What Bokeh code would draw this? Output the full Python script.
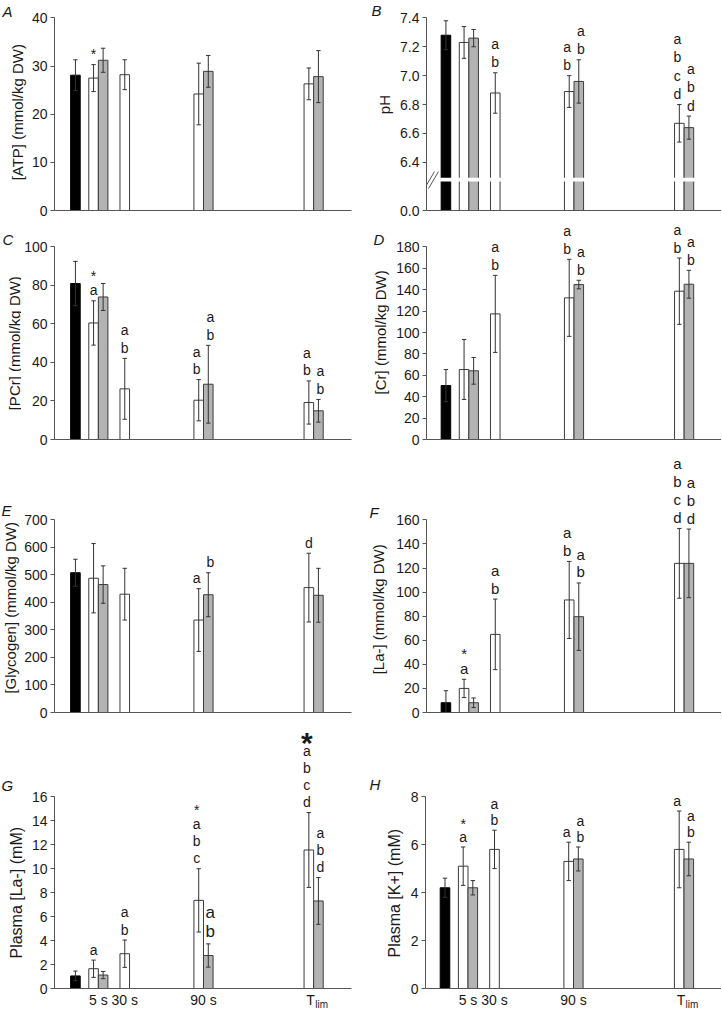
import math
from bokeh.plotting import figure
from bokeh.layouts import column, row
from bokeh.models import FixedTicker, Range1d, PrintfTickFormatter, LinearAxis
from bokeh.core.properties import value
from bokeh.embed import file_html
from bokeh.resources import INLINE

# ---------------- data ----------------
white_groups = ["5 s", "30 s", "90 s", "Tlim"]
grey_groups = ["5 s", "90 s", "Tlim"]
x_tick_groups = ["5 s", "30 s", "90 s", "Tlim"]
x_tick_labels = ["5 s", "30 s", "90 s", "T"]
x_tick_sub = "lim"

# A  [ATP]
atp_black = [28.1]; atp_black_sd = [3.2]
atp_white = [27.5, 28.2, 24.2, 26.3]; atp_white_sd = [2.8, 3.1, 6.4, 3.3]
atp_grey = [31.2, 28.9, 27.8]; atp_grey_sd = [2.5, 3.3, 5.4]
atp_white_sig = ["*", "", "", ""]; atp_grey_sig = ["", "", ""]
atp_ticks = [0, 10, 20, 30, 40]

# B  pH (axis broken between 0.0 and 6.4)
ph_black = [7.28]; ph_black_sd = [0.10]
ph_white = [7.23, 6.88, 6.89, 6.67]; ph_white_sd = [0.11, 0.14, 0.11, 0.13]
ph_grey = [7.26, 6.96, 6.64]; ph_grey_sd = [0.06, 0.15, 0.08]
ph_white_sig = ["", "a\nb", "a\nb", "a\nb\nc\nd"]; ph_grey_sig = ["", "a\nb", "a\nb\nd"]
ph_tick_vals = [6.4, 6.6, 6.8, 7.0, 7.2, 7.4]
ph_zero_label = "0.0"

# C  [PCr]
pcr_black = [81.0]; pcr_black_sd = [11.5]
pcr_white = [60.5, 26.3, 20.4, 19.2]; pcr_white_sd = [11.5, 15.8, 10.7, 11.2]
pcr_grey = [74.0, 28.7, 14.9]; pcr_grey_sd = [7.0, 20.2, 5.9]
pcr_white_sig = ["*\na", "a\nb", "a\nb", "a\nb"]; pcr_grey_sig = ["", "a\nb", "a\nb"]
pcr_ticks = [0, 20, 40, 60, 80, 100]

# D  [Cr]
cr_black = [50.4]; cr_black_sd = [15.0]
cr_white = [65.4, 117.4, 132.4, 138.6]; cr_white_sd = [28.0, 36.0, 36.0, 31.0]
cr_grey = [64.2, 144.8, 145.1]; cr_grey_sd = [12.5, 4.0, 13.0]
cr_white_sig = ["", "a\nb", "a\nb", "a\nb"]; cr_grey_sig = ["", "a\nb", "a\nb"]
cr_ticks = [0, 20, 40, 60, 80, 100, 120, 140, 160, 180]

# E  [Glycogen]
gly_black = [508.0]; gly_black_sd = [49.0]
gly_white = [488.0, 430.0, 336.0, 454.0]; gly_white_sd = [126.0, 94.0, 114.0, 125.0]
gly_grey = [465.0, 428.0, 426.0]; gly_grey_sd = [68.0, 80.0, 98.0]
gly_white_sig = ["", "", "a", "d"]; gly_grey_sig = ["", "b", ""]
gly_ticks = [0, 100, 200, 300, 400, 500, 600, 700]

# F  [La-] muscle
la_black = [8.1]; la_black_sd = [10.0]
la_white = [20.0, 64.9, 93.5, 123.9]; la_white_sd = [7.6, 29.3, 32.0, 29.0]
la_grey = [8.1, 79.6, 123.9]; la_grey_sd = [4.0, 28.0, 28.5]
la_white_sig = ["*\na", "a\nb", "a\nb", "a\nb\nc\nd"]; la_grey_sig = ["", "a\nb", "a\nb\nd"]
la_ticks = [0, 20, 40, 60, 80, 100, 120, 140, 160]

# G  Plasma [La-]
pla_black = [1.05]; pla_black_sd = [0.40]
pla_white = [1.65, 2.90, 7.35, 11.55]; pla_white_sd = [0.72, 1.14, 2.64, 3.12]
pla_grey = [1.12, 2.75, 7.30]; pla_grey_sd = [0.30, 0.97, 1.95]
pla_white_sig = ["a", "a\nb", "*\na\nb\nc", "a\nb\nc\nd"]; pla_grey_sig = ["", "a\nb", "a\nb\nd"]
pla_white_bigstar = [False, False, False, True]
pla_ticks = [0, 2, 4, 6, 8, 10, 12, 14, 16]

# H  Plasma [K+]
pk_black = [4.2]; pk_black_sd = [0.4]
pk_white = [5.1, 5.8, 5.3, 5.8]; pk_white_sd = [0.8, 0.8, 0.8, 1.6]
pk_grey = [4.2, 5.4, 5.4]; pk_grey_sd = [0.3, 0.5, 0.7]
pk_white_sig = ["*\na", "a\nb", "a", "a"]; pk_grey_sig = ["", "a\nb", "a\nb"]
pk_ticks = [0, 2, 4, 6, 8]

# ---------------- layout / style ----------------
FONT = "Liberation Sans"
INK = "#1a1a1a"
AXC = "#555555"
EDGE = "#3c3c3c"
GREY = "#b3b3b3"
AXIS_PX = 192.6           # pixels between zero and top tick
PH_PPU = 144.4            # pixels per pH unit
GROUP_X = {"Baseline": 21.0, "5 s": 44.0, "30 s": 70.5, "90 s": 149.5, "Tlim": 260.0}
BAR_W = 9.6
CAP = 2.2
SPREAD = 2.0              # sideways nudge of letters when both bars of a pair are marked
ROWS = [(220, 10), (232, 13), (273, 13), (287, 23)]   # (figure height, bottom border)
AXIS_X = [53, 64]          # y-axis position inside each column (px)

PH_BASE = 7.4 - AXIS_PX / PH_PPU

PANELS = {
    "A": dict(ylabel="[ATP] (mmol/kg DW)", black=atp_black, black_sd=atp_black_sd,
              white=atp_white, white_sd=atp_white_sd, grey=atp_grey, grey_sd=atp_grey_sd,
              wsig=atp_white_sig, gsig=atp_grey_sig, ticks=atp_ticks, ann=14, lh=17.5,
              lw=28, ylab=(17, 117), ylab_size=15, letter=(2, 11.5)),
    "B": dict(ylabel="pH", black=ph_black, black_sd=ph_black_sd,
              white=ph_white, white_sd=ph_white_sd, grey=ph_grey, grey_sd=ph_grey_sd,
              wsig=ph_white_sig, gsig=ph_grey_sig, ticks=[PH_BASE] + ph_tick_vals, ann=14, lh=18.5,
              lw=36, ylab=(22.5, 109), ylab_size=15, letter=(10, 10)),
    "C": dict(ylabel="[PCr] (mmol/kg DW)", black=pcr_black, black_sd=pcr_black_sd,
              white=pcr_white, white_sd=pcr_white_sd, grey=pcr_grey, grey_sd=pcr_grey_sd,
              wsig=pcr_white_sig, gsig=pcr_grey_sig, ticks=pcr_ticks, ann=14, lh=17.5,
              lw=21, ylab=(13.5, 130), ylab_size=15, letter=(2, 20)),
    "D": dict(ylabel="[Cr] (mmol/kg DW)", black=cr_black, black_sd=cr_black_sd,
              white=cr_white, white_sd=cr_white_sd, grey=cr_grey, grey_sd=cr_grey_sd,
              wsig=cr_white_sig, gsig=cr_grey_sig, ticks=cr_ticks, ann=14, lh=17.5,
              lw=32, ylab=(19, 118.5), ylab_size=15, letter=(12, 20)),
    "E": dict(ylabel="[Glycogen] (mmol/kg DW)", black=gly_black, black_sd=gly_black_sd,
              white=gly_white, white_sd=gly_white_sd, grey=gly_grey, grey_sd=gly_grey_sd,
              wsig=gly_white_sig, gsig=gly_grey_sig, ticks=gly_ticks, ann=14, lh=17.5,
              lw=21, ylab=(9.5, 163), ylab_size=15, letter=(1, 61)),
    "F": dict(ylabel="[La-] (mmol/kg DW)", black=la_black, black_sd=la_black_sd,
              white=la_white, white_sd=la_white_sd, grey=la_grey, grey_sd=la_grey_sd,
              wsig=la_white_sig, gsig=la_grey_sig, ticks=la_ticks, ann=15, lh=17.3,
              lw=32, ylab=(17, 164.7), ylab_size=15, letter=(8, 63)),
    "G": dict(ylabel="Plasma [La-] (mM)", black=pla_black, black_sd=pla_black_sd,
              white=pla_white, white_sd=pla_white_sd, grey=pla_grey, grey_sd=pla_grey_sd,
              wsig=pla_white_sig, gsig=pla_grey_sig, ticks=pla_ticks, ann=14, lh=17.2,
              gann=[14, 17, 14], bigstar=pla_white_bigstar,
              lw=28, ylab=(16, 182.5), ylab_size=16, letter=(1, 65)),
    "H": dict(ylabel="Plasma [K+] (mM)", black=pk_black, black_sd=pk_black_sd,
              white=pk_white, white_sd=pk_white_sd, grey=pk_grey, grey_sd=pk_grey_sd,
              wsig=pk_white_sig, gsig=pk_grey_sig, ticks=pk_ticks, ann=14, lh=16.0,
              lw=44, ylab=(32.5, 183), ylab_size=16, letter=(8, 64)),
}


def draw_sig(p, xs, tops, texts, sizes, ppu, lh, shifts):
    X, Y, T, S = [], [], [], []
    for x, t, s, sz, dx in zip(xs, tops, texts, sizes, shifts):
        if not s:
            continue
        step = lh + (sz - 14) * 0.6
        off = 2.5
        for k, ln in enumerate(reversed(s.split("\n"))):
            if k > 0:
                off += step * (0.8 if ln == "*" else 1.0)
            X.append(x + dx); Y.append(t + off / ppu); T.append(ln); S.append(f"{sz}px")
    if X:
        p.text(x=X, y=Y, text=T, text_align="center", text_baseline="bottom",
               text_font=value(FONT), text_font_size=S, text_color=INK)


def label_panel(key, rix):
    d = PANELS[key]
    row_h = ROWS[rix][0]
    lw = d["lw"]
    f = figure(width=lw, height=row_h, x_range=Range1d(0, lw), y_range=Range1d(0, row_h),
               output_backend="svg", toolbar_location=None, min_border=0,
               x_axis_type=None, y_axis_type=None)
    f.outline_line_color = None
    f.grid.visible = False
    f.border_fill_color = "white"
    lx, ly = d["ylab"]
    f.text(x=[lx], y=[row_h - ly], text=[d["ylabel"]], angle=math.pi / 2,
           text_align="center", text_baseline="middle", text_font=value(FONT),
           text_font_size=f"{d['ylab_size']}px", text_color=INK)
    ex, ey = d["letter"]
    f.text(x=[ex], y=[row_h - ey], text=[key], text_align="left", text_baseline="middle",
           text_font=value(FONT), text_font_size="15px", text_font_style="italic", text_color=INK)
    return f


def make_panel(key, col, rix, bottom_labels):
    d = PANELS[key]
    row_h, bb = ROWS[rix]
    frame_h = row_h - bb
    lw = d["lw"]
    if col == 0:
        x0, fw, br = 0.0, 298.0, 10
    else:
        x0, fw, br = 1.5, 296.0, 0
    bl = AXIS_X[col] - lw
    width = bl + int(fw) + br
    ticks = d["ticks"]
    y0 = ticks[0]
    ppu = AXIS_PX / (ticks[-1] - ticks[0])
    y1 = y0 + frame_h / ppu

    p = figure(width=width, height=row_h, x_range=Range1d(x0, x0 + fw), y_range=Range1d(y0, y1),
               output_backend="svg", toolbar_location=None,
               min_border_left=bl, min_border_right=br, min_border_top=0, min_border_bottom=bb)
    p.outline_line_color = None
    p.grid.visible = False
    p.background_fill_color = "white"
    p.border_fill_color = "white"

    # y axis
    ya = p.yaxis[0]
    ya.ticker = FixedTicker(ticks=ticks)
    ya.bounds = (ticks[0], ticks[-1])
    ya.axis_line_color = AXC
    ya.major_tick_line_color = AXC
    ya.minor_tick_line_color = None
    ya.major_tick_out = 4
    ya.major_tick_in = 0
    ya.major_label_standoff = 3
    ya.major_label_text_font = FONT
    ya.major_label_text_font_size = "14px"
    ya.major_label_text_color = INK
    if key == "B":
        ya.formatter = PrintfTickFormatter(format="%.1f")
        ya.major_label_overrides = {PH_BASE: ph_zero_label}

    # x axis
    xa = p.xaxis[0]
    xa.axis_line_color = AXC
    xa.major_tick_line_color = None
    xa.minor_tick_line_color = None
    xa.major_tick_out = 0
    xa.major_tick_in = 0
    if bottom_labels:
        pos = [GROUP_X[g] - (3.0 if g == "Tlim" else 0.0) for g in x_tick_groups]
        xa.ticker = FixedTicker(ticks=pos)
        xa.major_label_overrides = {v: t for v, t in zip(pos, x_tick_labels)}
        xa.major_label_standoff = 3
        xa.major_label_text_font = FONT
        xa.major_label_text_font_size = "14px"
        xa.major_label_text_color = INK
        sub_x = GROUP_X["Tlim"] + 8.0
        sub = LinearAxis(ticker=FixedTicker(ticks=[sub_x]), major_label_overrides={sub_x: x_tick_sub},
                         axis_line_color=None, major_tick_line_color=None, minor_tick_line_color=None,
                         major_tick_out=0, major_tick_in=0, major_label_standoff=-12,
                         major_label_text_font=FONT, major_label_text_font_size="10px",
                         major_label_text_color=INK)
        p.add_layout(sub, "below")
    else:
        xa.ticker = FixedTicker(ticks=[])
        xa.major_label_standoff = 0

    # bars
    wx = [GROUP_X[g] - (BAR_W / 2 if g in grey_groups else 0.0) for g in white_groups]
    gx = [GROUP_X[g] + BAR_W / 2 for g in grey_groups]
    bx = [GROUP_X["Baseline"]]
    p.vbar(x=bx, width=BAR_W, top=d["black"], bottom=y0, fill_color="black", line_color="black", line_width=1)
    p.vbar(x=wx, width=BAR_W, top=d["white"], bottom=y0, fill_color="white", line_color=EDGE, line_width=1)
    p.vbar(x=gx, width=BAR_W, top=d["grey"], bottom=y0, fill_color=GREY, line_color=EDGE, line_width=1)

    # error bars
    for xs, m, s in ((bx, d["black"], d["black_sd"]), (wx, d["white"], d["white_sd"]),
                     (gx, d["grey"], d["grey_sd"])):
        lo = [a - b for a, b in zip(m, s)]
        hi = [a + b for a, b in zip(m, s)]
        p.segment(x0=xs, y0=lo, x1=xs, y1=hi, line_color="#333333", line_width=1)
        p.segment(x0=[x - CAP for x in xs], y0=hi, x1=[x + CAP for x in xs], y1=hi,
                  line_color="#333333", line_width=1)
        p.segment(x0=[x - CAP for x in xs], y0=lo, x1=[x + CAP for x in xs], y1=lo,
                  line_color="#333333", line_width=1)

    # axis break on pH
    if key == "B":
        p.quad(left=[GROUP_X["Baseline"] - 8], right=[GROUP_X["Tlim"] + 12],
               bottom=[7.4 - (181.8 - 18.3) / PH_PPU], top=[7.4 - (178.2 - 18.3) / PH_PPU],
               fill_color="white", line_color=None)
        p.segment(x0=[x0 - 2, x0 + 2], y0=[7.4 - (189 - 18.3) / PH_PPU] * 2,
                  x1=[x0 + 8, x0 + 12], y1=[7.4 - (172 - 18.3) / PH_PPU] * 2,
                  line_color=AXC, line_width=1)

    # significance letters
    whi = [a + b for a, b in zip(d["white"], d["white_sd"])]
    ghi = [a + b for a, b in zip(d["grey"], d["grey_sd"])]
    both = {g: bool(d["wsig"][white_groups.index(g)]) and bool(d["gsig"][grey_groups.index(g)])
            for g in grey_groups}
    wshift = [-SPREAD if both.get(g, False) else 0.0 for g in white_groups]
    gshift = [SPREAD if both[g] else 0.0 for g in grey_groups]
    draw_sig(p, wx, whi, d["wsig"], [d["ann"]] * len(wx), ppu, d["lh"], wshift)
    draw_sig(p, gx, ghi, d["gsig"], d.get("gann", [d["ann"]] * len(gx)), ppu, d["lh"], gshift)
    if "bigstar" in d:
        for x, t, s, big, dx in zip(wx, whi, d["wsig"], d["bigstar"], wshift):
            if big:
                n = s.count("\n") + 1
                p.text(x=[x + dx], y=[t + (2.5 + (n - 1) * d["lh"]) / ppu], text=["*"], text_align="center",
                       text_baseline="bottom", text_font=value(FONT), text_font_size="30px",
                       text_font_style="bold", text_color=INK)
    return p


layout_rows = []
for rix, (lk, rk) in enumerate([("A", "B"), ("C", "D"), ("E", "F"), ("G", "H")]):
    last = rix == 3
    layout_rows.append(row(label_panel(lk, rix), make_panel(lk, 0, rix, last),
                           label_panel(rk, rix), make_panel(rk, 1, rix, last)))

page = column(*layout_rows)
open("out.html", "w").write(file_html(page, INLINE))
